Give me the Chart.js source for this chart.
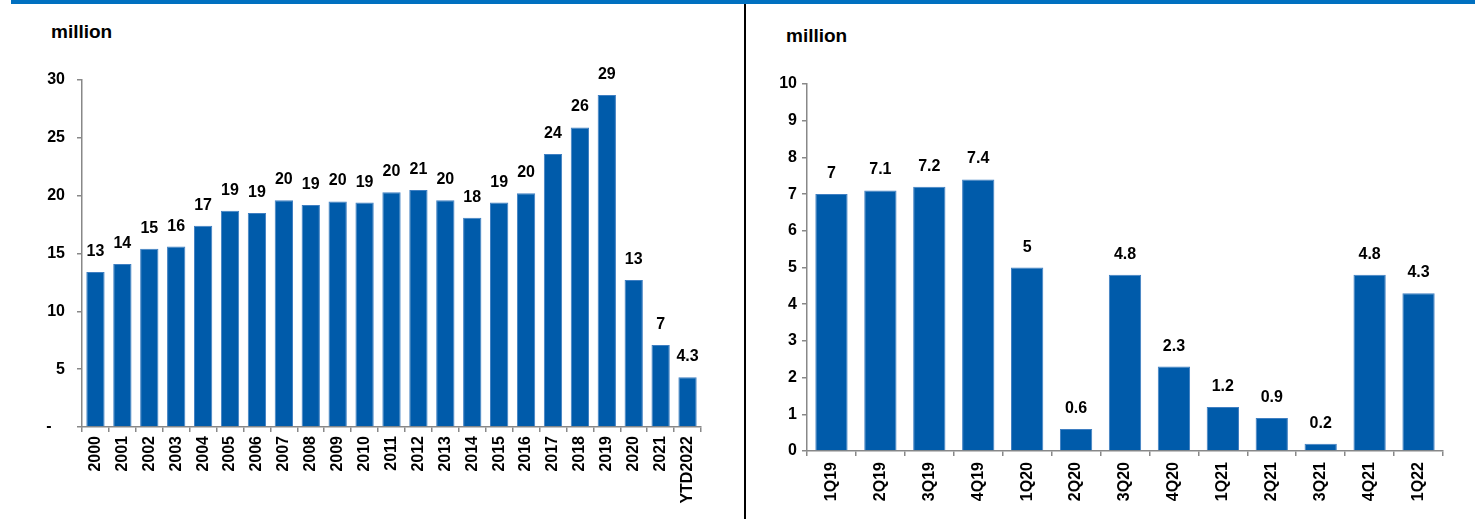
<!DOCTYPE html>
<html>
<head>
<meta charset="utf-8">
<script src="https://cdn.jsdelivr.net/npm/chart.js@4"></script>
<style>
  body { margin: 0; width: 1475px; height: 519px; background: #fff; position: relative; overflow: hidden; font-family: "Liberation Sans", Arial, sans-serif; }
  .topbar { position: absolute; left: 11px; top: 0; width: 1464px; height: 4px; background: #0070C0; }
  .divider { position: absolute; left: 744px; top: 4px; width: 2px; height: 515px; background: #000; }
  .unit { position: absolute; font-weight: bold; font-size: 19px; color: #000; }
  .box { position: absolute; top: 0; height: 519px; }
</style>
</head>
<body>
<div class="topbar"></div>
<div class="divider"></div>
<div class="unit" style="left:51px; top:21px;">million</div>
<div class="unit" style="left:786px; top:25px;">million</div>
<div class="box" style="left:0; width:744px;"><canvas id="yearChart"></canvas></div>
<div class="box" style="left:746px; width:729px;"><canvas id="quarterChart"></canvas></div>

<script>
// --- Data ---
const YEARS = ['2000', '2001', '2002', '2003', '2004', '2005', '2006', '2007', '2008', '2009', '2010', '2011',
  '2012', '2013', '2014', '2015', '2016', '2017', '2018', '2019', '2020', '2021', 'YTD2022'];
const YEAR_VALUES = [13.4, 14.1, 15.4, 15.6, 17.4, 18.7, 18.5, 19.6, 19.2, 19.5, 19.4, 20.3,
  20.5, 19.6, 18.1, 19.4, 20.2, 23.6, 25.9, 28.7, 12.7, 7.1, 4.3];
const YEAR_LABELS = ['13', '14', '15', '16', '17', '19', '19', '20', '19', '20', '19', '20',
  '21', '20', '18', '19', '20', '24', '26', '29', '13', '7', '4.3'];

const QUARTERS = ['1Q19', '2Q19', '3Q19', '4Q19', '1Q20', '2Q20', '3Q20', '4Q20', '1Q21', '2Q21', '3Q21', '4Q21', '1Q22'];
const QUARTER_VALUES = [7, 7.1, 7.2, 7.4, 5, 0.6, 4.8, 2.3, 1.2, 0.9, 0.2, 4.8, 4.3];

const BAR_COLOR = '#005BAA';
const AXIS_COLOR = '#888888';
const FONT = '"Liberation Sans", Arial, sans-serif';

// draws the value above each bar
const barLabels = {
  id: 'barLabels',
  afterDatasetsDraw(chart, args, opts) {
    const ctx = chart.ctx;
    const meta = chart.getDatasetMeta(0);
    ctx.save();
    ctx.font = 'bold 16px ' + FONT;
    ctx.fillStyle = '#000';
    ctx.textAlign = 'center';
    ctx.textBaseline = 'alphabetic';
    meta.data.forEach((bar, i) => {
      ctx.fillText(opts.labels[i], bar.x, bar.y - 16);
    });
    ctx.restore();
  }
};

function makeChart(id, labels, values, valueLabels, cfg) {
  return new Chart(document.getElementById(id), {
    type: 'bar',
    data: {
      labels: labels,
      datasets: [{
        data: values,
        backgroundColor: BAR_COLOR,
        borderColor: '#3f7fc2',
        borderWidth: 1,
        categoryPercentage: 1,
        barPercentage: cfg.barPct
      }]
    },
    options: {
      responsive: true,
      maintainAspectRatio: false,
      animation: false,
      layout: { padding: { top: cfg.top, right: cfg.right, left: 0, bottom: 0 } },
      plugins: {
        legend: { display: false },
        tooltip: { enabled: false },
        barLabels: { labels: valueLabels }
      },
      scales: {
        x: {
          grid: { offset: true, drawOnChartArea: false, drawTicks: true, tickLength: 5, color: AXIS_COLOR, lineWidth: 1.5 },
          border: { color: AXIS_COLOR, width: 1.5 },
          ticks: { color: '#000', font: { family: FONT, size: 16, weight: 'bold' }, maxRotation: 90, minRotation: 90, autoSkip: false, padding: cfg.xPad },
          afterFit(scale) { scale.height = cfg.xHeight; }
        },
        y: {
          min: 0,
          max: cfg.max,
          grid: { drawOnChartArea: false, drawTicks: true, tickLength: 5, color: AXIS_COLOR, lineWidth: 1.5 },
          border: { color: AXIS_COLOR, width: 1.5 },
          ticks: {
            stepSize: cfg.step,
            color: '#000',
            font: { family: FONT, size: 16, weight: 'bold' },
            padding: cfg.yPad,
            callback: cfg.yFormat
          },
          afterFit(scale) { scale.width = cfg.yWidth; }
        }
      }
    },
    plugins: [barLabels]
  });
}

makeChart('yearChart', YEARS, YEAR_VALUES, YEAR_LABELS, {
  barPct: 0.68, top: 80, right: 43, xHeight: 92, yWidth: 82, max: 30, step: 5, xPad: 4, yPad: 12,
  yFormat: v => v === 0 ? '-   ' : v
});

makeChart('quarterChart', QUARTERS, QUARTER_VALUES, QUARTER_VALUES.map(String), {
  barPct: 0.66, top: 84, right: 32, xHeight: 68, yWidth: 61, max: 10, step: 1, xPad: 6, yPad: 5,
  yFormat: v => v
});
</script>
</body>
</html>
